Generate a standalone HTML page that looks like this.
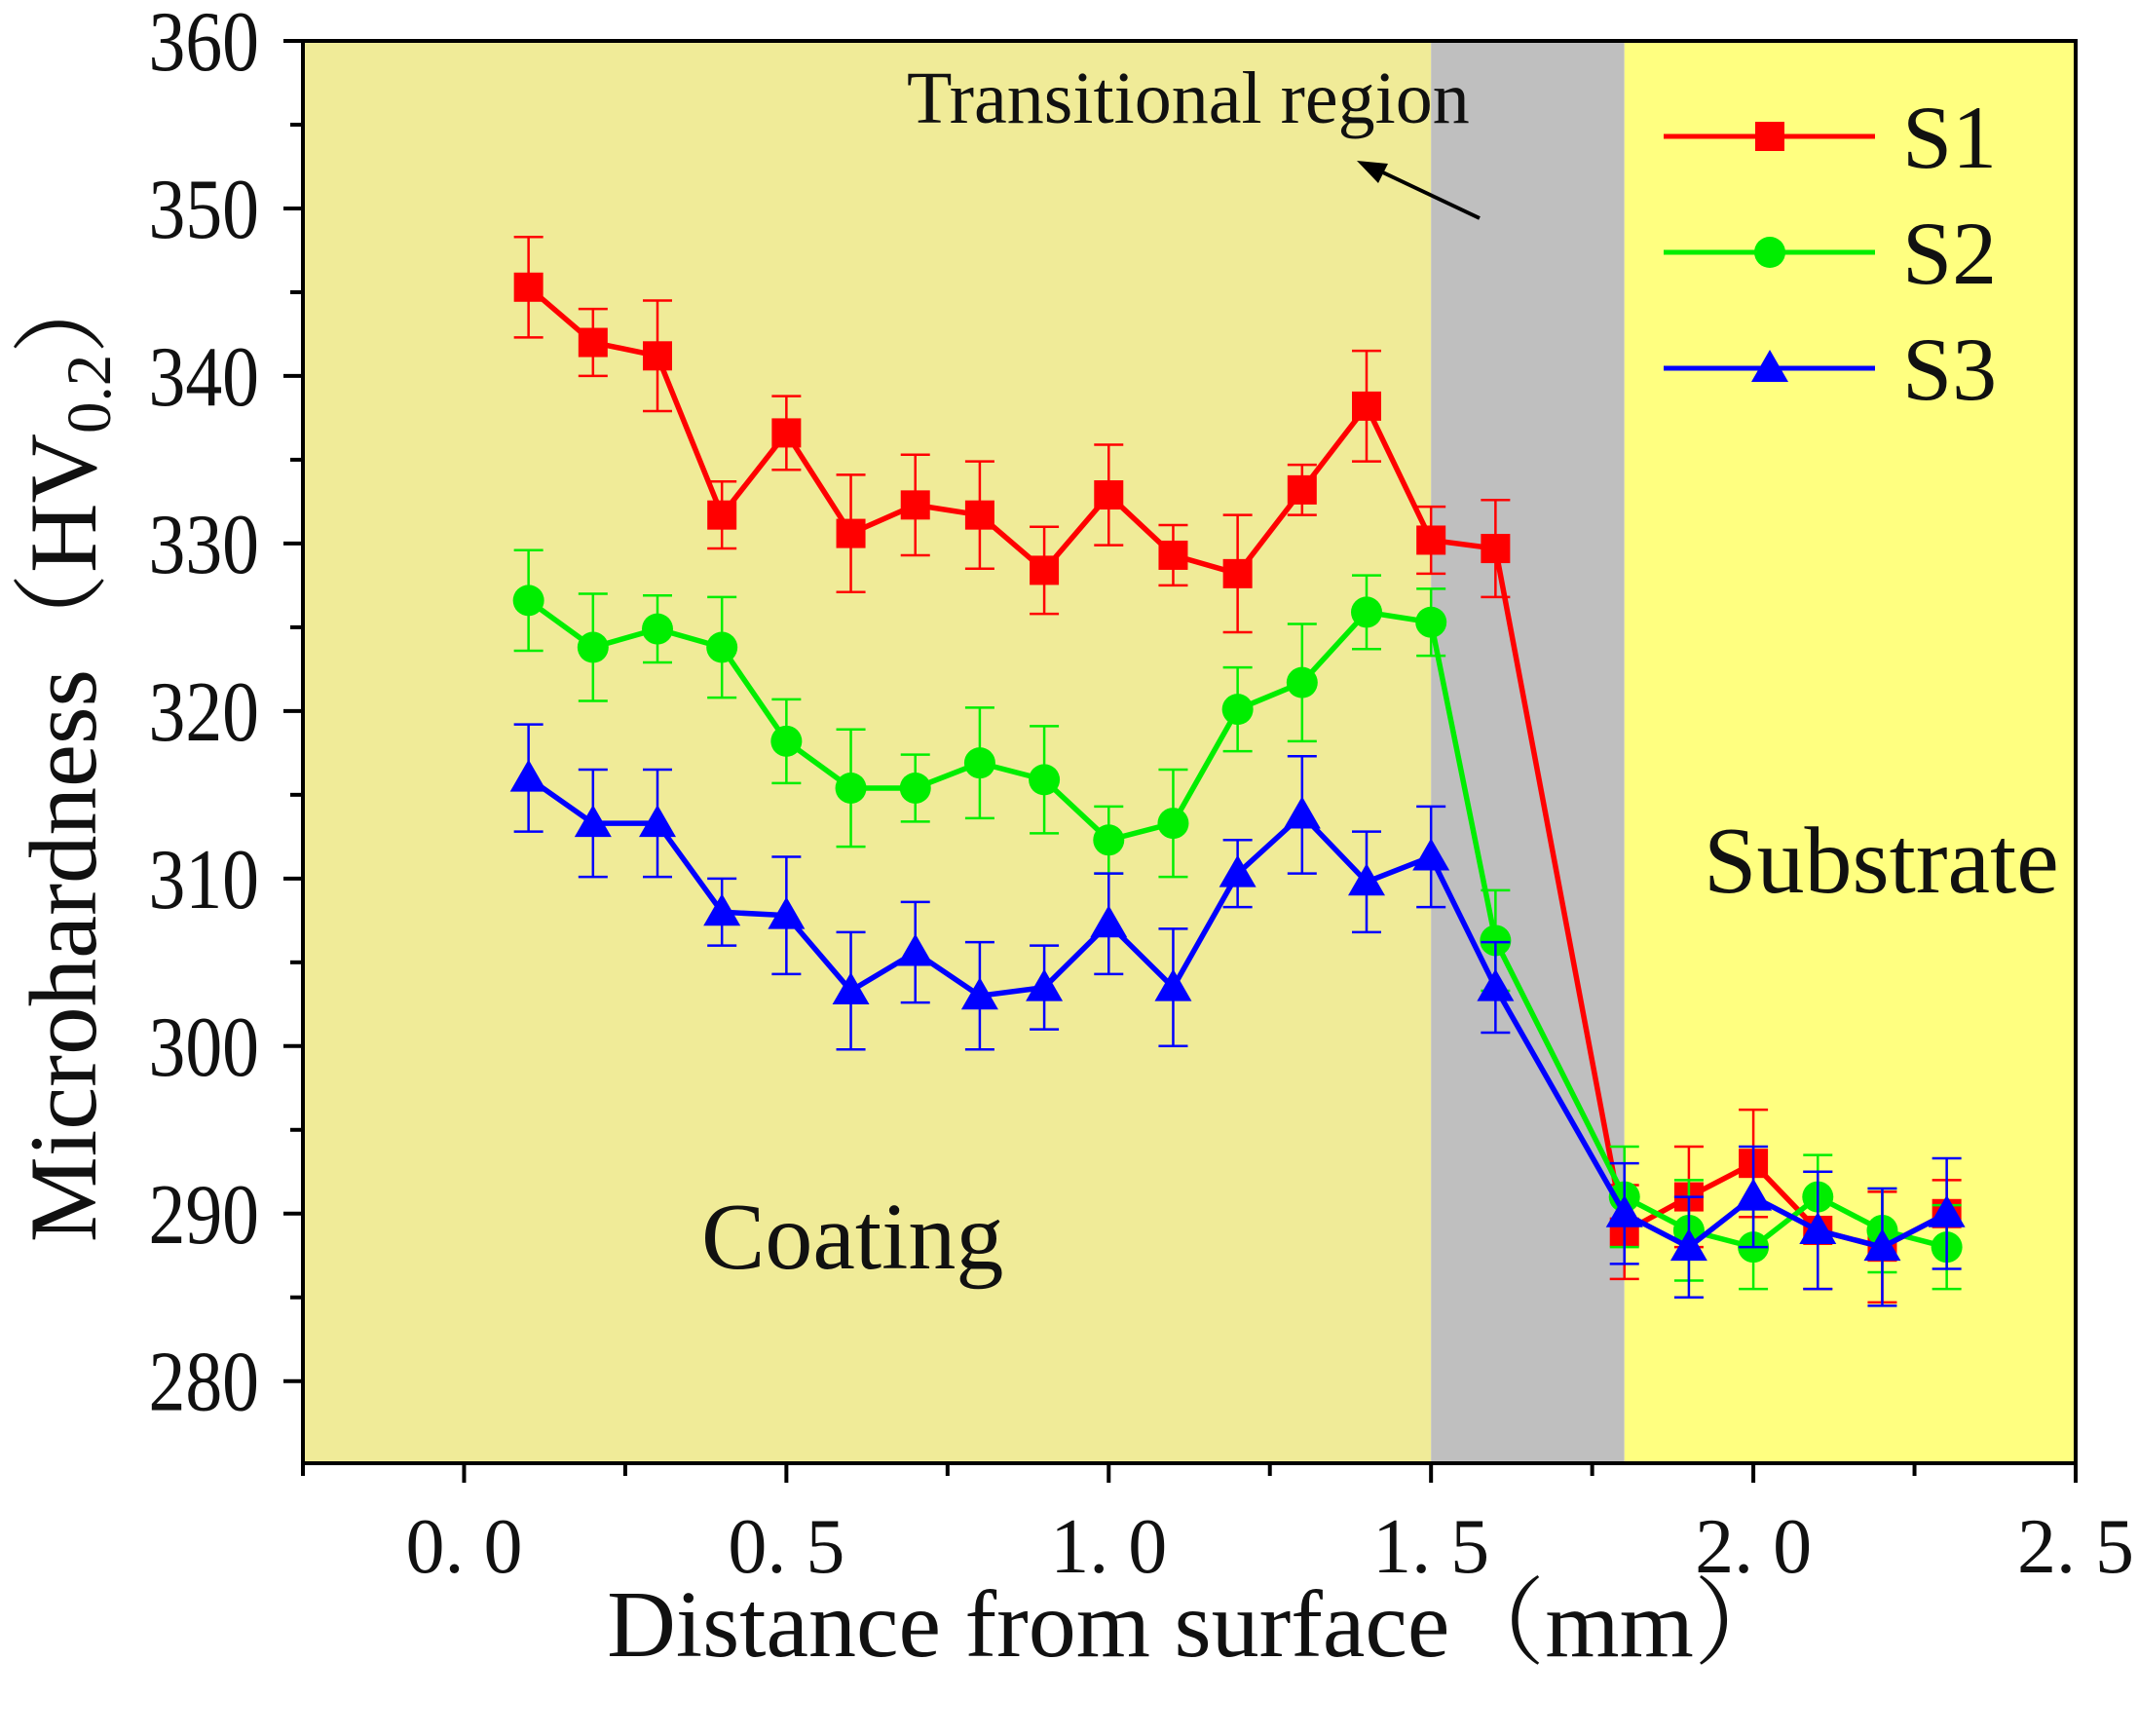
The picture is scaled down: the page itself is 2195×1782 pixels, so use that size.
<!DOCTYPE html>
<html><head><meta charset="utf-8"><style>
body{margin:0;background:#fff}
svg text{font-family:"Liberation Serif","Noto Serif CJK SC",serif;fill:#111}
</style></head><body>
<svg id="chart" width="2195" height="1777" viewBox="0 0 2195 1777" xmlns="http://www.w3.org/2000/svg"></svg>
<script>
const xs=[0.1,0.2,0.3,0.4,0.5,0.6,0.7,0.8,0.9,1.0,1.1,1.2,1.3,1.4,1.5,1.6,1.8,1.9,2.0,2.1,2.2,2.3];
const s1=[345.3,342,341.2,331.7,336.6,330.6,332.3,331.7,328.4,332.9,329.3,328.2,333.2,338.2,330.2,329.7,288.9,291,293,289,288,290];
const s1err=[3,2,3.3,2,2.2,3.5,3,3.2,2.6,3,1.8,3.5,1.5,3.3,2,2.9,2.8,3,3.2,3.5,3.3,2];
const s2=[326.6,323.8,324.9,323.8,318.2,315.4,315.4,316.9,315.9,312.3,313.3,320.1,321.7,325.9,325.3,306.3,291,289,288,291,289,288];
const s2err=[3,3.2,2,3,2.5,3.5,2,3.3,3.2,2,3.2,2.5,3.5,2.2,2,3,3,3,2.5,2.5,2.5,2.5];
const s3=[316,313.3,313.3,308,307.8,303.3,305.6,303,303.5,307.3,303.5,310.3,313.8,309.8,311.3,303.5,290,288,291,289,288,290];
const s3err=[3.2,3.2,3.2,2,3.5,3.5,3,3.2,2.5,3,3.5,2,3.5,3,3,2.7,3,3,3,3.5,3.5,3.3];
const xTicks=[0,0.5,1.0,1.5,2.0,2.5];
const xTickLabels=["0. 0","0. 5","1. 0","1. 5","2. 0","2. 5"];
const yTicks=[280,290,300,310,320,330,340,350,360];
const regionBounds=[-0.25,1.5,1.8,2.5];

const L=311,R=2131,T=42,B=1502,XMIN=-0.25,XMAX=2.5,YMIN=275.1,YMAX=360;
const sx=v=>L+(v-XMIN)/(XMAX-XMIN)*(R-L);
const sy=v=>B-(v-YMIN)/(YMAX-YMIN)*(B-T);
const svg=document.getElementById('chart');
const NS='http://www.w3.org/2000/svg';
function mk(tag,attrs,parent){const e=document.createElementNS(NS,tag);for(const k in attrs)e.setAttribute(k,attrs[k]);(parent||svg).appendChild(e);return e;}

const regColors=['#f0eb98','#bfbfbf','#ffff80'];
const regNames=['coating-region','transitional-region','substrate-region'];
for(let i=0;i<3;i++){
  const r=mk('rect',{x:sx(regionBounds[i]),y:T,width:sx(regionBounds[i+1])-sx(regionBounds[i]),height:B-T,fill:regColors[i]});
  
  
}
const fr=mk('rect',{x:L,y:T,width:R-L,height:B-T,fill:'none',stroke:'#000','stroke-width':4});



for(let v=280;v<=360;v+=5){
  const major=v%10===0;
  mk('line',{x1:L-(major?20:13),x2:L,y1:sy(v),y2:sy(v),stroke:'#000','stroke-width':4});
}
yTicks.forEach(v=>{
  const t=mk('text',{x:0,y:0,'text-anchor':'end','font-size':88,transform:`translate(266,${sy(v)+30}) scale(0.86,1)`});
  t.textContent=v;
  
  
});
for(let v=-0.25;v<=2.501;v+=0.25){
  const major=Math.abs(Math.round(v*2)-v*2)<1e-6;
  mk('line',{x1:sx(v),x2:sx(v),y1:B,y2:B+(major?20:13),stroke:'#000','stroke-width':4});
}
xTicks.forEach((v,i)=>{
  const t=mk('text',{x:sx(v),y:B+112,'text-anchor':'middle','font-size':80});
  t.textContent=xTickLabels[i];
  
  
});

function series(vals,errs,color,shape,name){
  const g=mk('g',{});
  
  
  let d='';
  xs.forEach((x,i)=>{d+=(i?'L':'M')+sx(x)+' '+sy(vals[i]);});
  mk('path',{d:d,fill:'none',stroke:color,'stroke-width':5.5},g);
  xs.forEach((x,i)=>{
    const cx=sx(x),y1=sy(vals[i]+errs[i]),y2=sy(vals[i]-errs[i]);
    mk('path',{d:`M${cx} ${y1}V${y2}M${cx-15} ${y1}H${cx+15}M${cx-15} ${y2}H${cx+15}`,stroke:color,'stroke-width':2.5,fill:'none'},g);
  });
  xs.forEach((x,i)=>{
    const cx=sx(x),cy=sy(vals[i]);
    let m;
    if(shape==='square')m=mk('rect',{x:cx-15,y:cy-15,width:30,height:30,fill:color},g);
    else if(shape==='circle')m=mk('circle',{cx:cx,cy:cy,r:16,fill:color},g);
    else m=mk('polygon',{points:`${cx},${cy-19} ${cx-19},${cy+14} ${cx+19},${cy+14}`,fill:color},g);
    
    
  });
}
series(s1,s1err,'#ff0000','square','s1');
series(s2,s2err,'#00ee00','circle','s2');
series(s3,s3err,'#0000ff','triangle','s3');

const leg=[['S1','#ff0000','square',140],['S2','#00ee00','circle',259],['S3','#0000ff','triangle',378]];
leg.forEach(l=>{
  const g=mk('g',{});
  
  
  const y=l[3];
  mk('line',{x1:1708,x2:1925,y1:y,y2:y,stroke:l[1],'stroke-width':5},g);
  const cx=1817;
  if(l[2]==='square')mk('rect',{x:cx-15,y:y-15,width:30,height:30,fill:l[1]},g);
  else if(l[2]==='circle')mk('circle',{cx:cx,cy:y,r:16,fill:l[1]},g);
  else mk('polygon',{points:`${cx},${y-19} ${cx-19},${y+14} ${cx+19},${y+14}`,fill:l[1]},g);
  const t=mk('text',{x:1953,y:y+32,'font-size':92},g);t.textContent=l[0];
});

function txt(s,x,y,size,name,anchor){const t=mk('text',{x:x,y:y,'font-size':size,'text-anchor':anchor||'start'});t.textContent=s;return t;}
txt('Transitional region',931,126,76,'transitional-region-label');
const ar=mk('g',{});


mk('line',{x1:1519,y1:224,x2:1405,y2:170,stroke:'#000','stroke-width':4},ar);
mk('polygon',{points:'1393,165 1425,168 1415,188',fill:'#000'},ar);
txt('Coating',720,1302,98,'coating-label');
txt('Substrate',1749,916,98,'substrate-label');
txt('Distance from surface（mm）',1230,1700,98,'x-axis-title','middle');
const yt=mk('text',{x:0,y:0,'font-size':99,'text-anchor':'middle',transform:'translate(98,770) rotate(-90)'});


yt.innerHTML='Microhardness（HV<tspan font-size="65" dy="15">0.2</tspan><tspan dy="-15">）</tspan>';
</script>
</body></html>
